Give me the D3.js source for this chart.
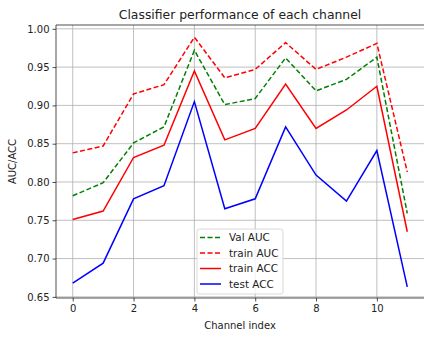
<!DOCTYPE html>
<html>
<head>
<meta charset="utf-8">
<script src="https://cdn.jsdelivr.net/npm/d3@7"></script>
<style>
  body { margin: 0; background: #fff; }
  svg { display: block; font-family: "DejaVu Sans", sans-serif; }
</style>
</head>
<body>
<div id="chart"></div>
<script>
const channels = [0, 1, 2, 3, 4, 5, 6, 7, 8, 9, 10, 11];
const valAUC   = [0.782, 0.799, 0.851, 0.872, 0.972, 0.901, 0.909, 0.962, 0.919, 0.934, 0.963, 0.759];
const trainAUC = [0.838, 0.847, 0.915, 0.927, 0.989, 0.936, 0.947, 0.982, 0.947, 0.963, 0.981, 0.813];
const trainACC = [0.751, 0.762, 0.832, 0.848, 0.945, 0.855, 0.870, 0.928, 0.870, 0.894, 0.925, 0.735];
const testACC  = [0.668, 0.694, 0.778, 0.795, 0.905, 0.765, 0.778, 0.872, 0.809, 0.775, 0.841, 0.663];
const xTicks = [0, 2, 4, 6, 8, 10];
const yTicks = [0.65, 0.70, 0.75, 0.80, 0.85, 0.90, 0.95, 1.00];

const series = [
  { name: "Val AUC", values: valAUC, color: "green", dash: "5,2.5" },
  { name: "train AUC", values: trainAUC, color: "red", dash: "5,2.5" },
  { name: "train ACC", values: trainACC, color: "red", dash: null },
  { name: "test ACC", values: testACC, color: "blue", dash: null },
];

const width = 424;
const height = 337;
const area = { left: 56, right: 424, top: 25, bottom: 298 };

const svg = d3.select("#chart").append("svg")
  .attr("width", width)
  .attr("height", height);

const xScale = d3.scaleLinear().domain([-0.55, 11.55]).range([area.left, area.right]);
const yScale = d3.scaleLinear().domain([0.6485, 1.005]).range([area.bottom, area.top]);

// gridlines
const grid = svg.append("g").attr("class", "grid");
grid.selectAll("line.gx").data(xTicks).join("line")
  .attr("x1", d => xScale(d)).attr("x2", d => xScale(d))
  .attr("y1", area.top).attr("y2", area.bottom)
  .attr("stroke", "#b0b0b0").attr("stroke-width", 0.8);
grid.selectAll("line.gy").data(yTicks).join("line")
  .attr("y1", d => yScale(d)).attr("y2", d => yScale(d))
  .attr("x1", area.left).attr("x2", area.right)
  .attr("stroke", "#b0b0b0").attr("stroke-width", 0.8);

// lines
const line = d3.line().x((d, i) => xScale(channels[i])).y(d => yScale(d));
svg.append("g").selectAll("path").data(series).join("path")
  .attr("d", d => line(d.values))
  .attr("fill", "none")
  .attr("stroke", d => d.color)
  .attr("stroke-width", 1.5)
  .attr("stroke-dasharray", d => d.dash);

// axes
const xAxis = d3.axisBottom(xScale).tickValues(xTicks).tickSize(3.5).tickPadding(3).tickFormat(d3.format("d"));
const gx = svg.append("g").attr("transform", `translate(0,${area.bottom})`).call(xAxis);
const yAxis = d3.axisLeft(yScale).tickValues(yTicks).tickSize(3.5).tickPadding(3).tickFormat(d3.format(".2f"));
const gy = svg.append("g").attr("transform", `translate(${area.left},0)`).call(yAxis);
[gx, gy].forEach(g => {
  g.select(".domain").remove();
  g.selectAll("text").attr("font-size", 10).attr("fill", "#222").attr("font-family", "DejaVu Sans");
  g.selectAll("line").attr("stroke", "#222").attr("stroke-width", 0.8);
});

// spines
svg.append("path")
  .attr("d", `M${area.right + 0.5},${area.top}H${area.left}V${area.bottom}H${area.right + 0.5}`)
  .attr("fill", "none").attr("stroke", "#222").attr("stroke-width", 0.8);

// title and labels
svg.append("text").attr("x", 240).attr("y", 19)
  .attr("text-anchor", "middle").attr("font-size", 12.4).attr("fill", "#222")
  .text("Classifier performance of each channel");
svg.append("text").attr("x", 240).attr("y", 329)
  .attr("text-anchor", "middle").attr("font-size", 10).attr("fill", "#222")
  .text("Channel index");
svg.append("text")
  .attr("transform", `translate(16,${(area.top + area.bottom) / 2}) rotate(-90)`)
  .attr("text-anchor", "middle").attr("font-size", 10).attr("fill", "#222")
  .text("AUC/ACC");

// legend
const legend = svg.append("g").attr("transform", "translate(197,229)");
legend.append("rect")
  .attr("width", 86).attr("height", 65).attr("rx", 2)
  .attr("fill", "white").attr("fill-opacity", 0.8)
  .attr("stroke", "#d0d0d0").attr("stroke-width", 0.8);
const items = legend.selectAll("g.item").data(series).join("g")
  .attr("transform", (d, i) => `translate(0,${8.5 + i * 15.5})`);
items.append("line")
  .attr("x1", 3).attr("x2", 24).attr("y1", 0).attr("y2", 0)
  .attr("stroke", d => d.color).attr("stroke-width", 1.5)
  .attr("stroke-dasharray", d => d.dash);
items.append("text")
  .attr("x", 32).attr("y", 3.7)
  .attr("font-size", 10.4).attr("fill", "#222")
  .text(d => d.name);
</script>
</body>
</html>
